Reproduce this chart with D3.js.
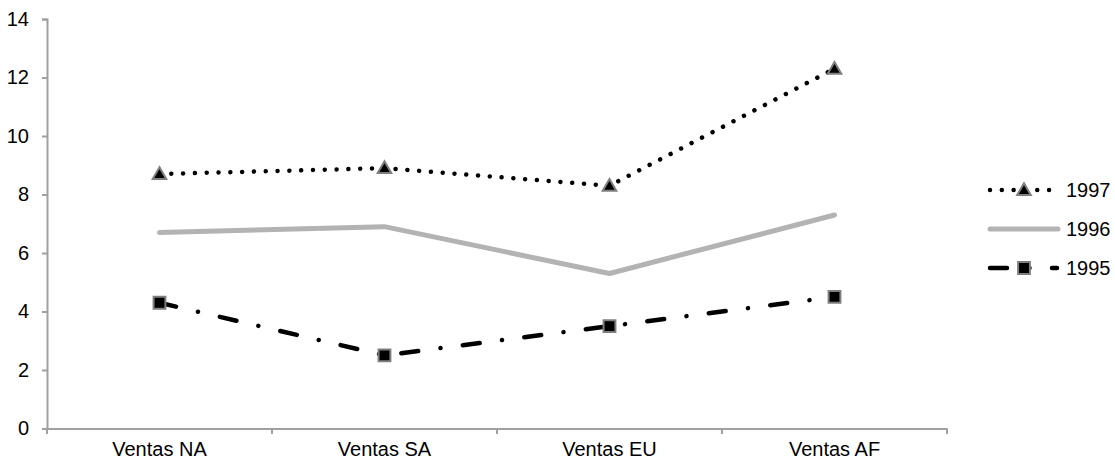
<!DOCTYPE html>
<html><head><meta charset="utf-8">
<script src="https://cdn.jsdelivr.net/npm/d3@7"></script>
<style>body{margin:0;background:#fff}svg{display:block}text{font-family:"Liberation Sans",Arial,sans-serif;fill:#000}</style>
</head><body>
<svg id="c" width="1115" height="462"></svg>
<script>
const categories = ["Ventas NA", "Ventas SA", "Ventas EU", "Ventas AF"];
const seriesNames = ["1997", "1996", "1995"];
const values1997 = [8.7, 8.9, 8.3, 12.3];
const values1996 = [6.7, 6.9, 5.3, 7.3];
const values1995 = [4.3, 2.5, 3.5, 4.5];
const yTicks = [0, 2, 4, 6, 8, 10, 12, 14];

const svg = d3.select("#c");
const x = d3.scaleBand().domain(categories).range([47, 947]);
const y = d3.scaleLinear().domain([0, 14]).range([428.5, 19]);
const axisColor = "#a0a0a0";
const fs = "20px";

// y axis
const ya = svg.append("g").attr("transform", "translate(47,0)")
  .call(d3.axisLeft(y).tickValues(yTicks).tickSize(5).tickPadding(13).tickFormat(d3.format("d")));
ya.select(".domain").attr("stroke", axisColor).attr("stroke-width", 2);
ya.selectAll(".tick line").attr("stroke", axisColor).attr("stroke-width", 2);
ya.selectAll(".tick text").style("font-size", fs).attr("fill", "#000");

// x axis
const xa = svg.append("g").attr("transform", "translate(0,428.5)")
  .call(d3.axisBottom(x).tickSize(0).tickPadding(13));
xa.select(".domain").attr("stroke", axisColor).attr("stroke-width", 2);
xa.selectAll(".tick text").style("font-size", fs).attr("fill", "#000");
// boundary ticks
const bounds = categories.map(c => x(c)).concat([x.range()[1]]);
svg.append("g").selectAll("line").data(bounds).join("line")
  .attr("x1", d => d).attr("x2", d => d).attr("y1", 428.5).attr("y2", 434)
  .attr("stroke", axisColor).attr("stroke-width", 2);

const cx = c => x(c) + x.bandwidth() / 2;
const line = d3.line().x((d, i) => cx(categories[i])).y(d => y(d));

const styles = {
  "1997": {vals: values1997, stroke: "#000", width: 4.5, dash: "0.01 11.8", cap: "round", marker: "triangle", lx1: 990, lx2: 1052},
  "1996": {vals: values1996, stroke: "#b3b3b3", width: 5, dash: null, cap: "round", marker: null, lx1: 990, lx2: 1058},
  "1995": {vals: values1995, stroke: "#000", width: 4.5, dash: "17 22.5 0.01 22.5", cap: "round", marker: "square", lx1: 990, lx2: 1057}
};

const markerSym = {
  triangle: d3.symbol().type(d3.symbolTriangle).size(80),
  square: d3.symbol().type(d3.symbolSquare).size(140)
};

function drawMarker(g, type, px, py) {
  if (!type) return;
  g.append("path").attr("d", markerSym[type]())
    .attr("transform", `translate(${px},${py + (type === "triangle" ? 1 : 0)})`)
    .attr("fill", "#000").attr("stroke", "#7f7f7f").attr("stroke-width", 2).attr("stroke-linejoin", "miter");
}

["1996", "1995", "1997"].forEach(name => {
  const s = styles[name];
  const g = svg.append("g");
  g.append("path").datum(s.vals).attr("d", line)
    .attr("fill", "none").attr("stroke", s.stroke).attr("stroke-width", s.width)
    .attr("stroke-linecap", s.name === "1996" ? "butt" : s.cap).attr("stroke-linejoin", "round")
    .attr("stroke-dasharray", s.dash);
  s.vals.forEach((v, i) => drawMarker(g, s.marker, cx(categories[i]), y(v)));
});

// legend
const legY = [190, 229, 268];
seriesNames.forEach((name, i) => {
  const s = styles[name];
  const g = svg.append("g");
  const ly = legY[i];
  g.append("line").attr("x1", s.lx1).attr("x2", s.lx2).attr("y1", ly).attr("y2", ly)
    .attr("stroke", s.stroke).attr("stroke-width", s.width)
    .attr("stroke-linecap", s.cap).attr("stroke-dasharray", s.dash);
  drawMarker(g, s.marker, 1024, ly);
  g.append("text").attr("x", 1066).attr("y", ly).attr("dy", "0.35em")
    .style("font-size", fs).text(name);
});
</script>
</body></html>
